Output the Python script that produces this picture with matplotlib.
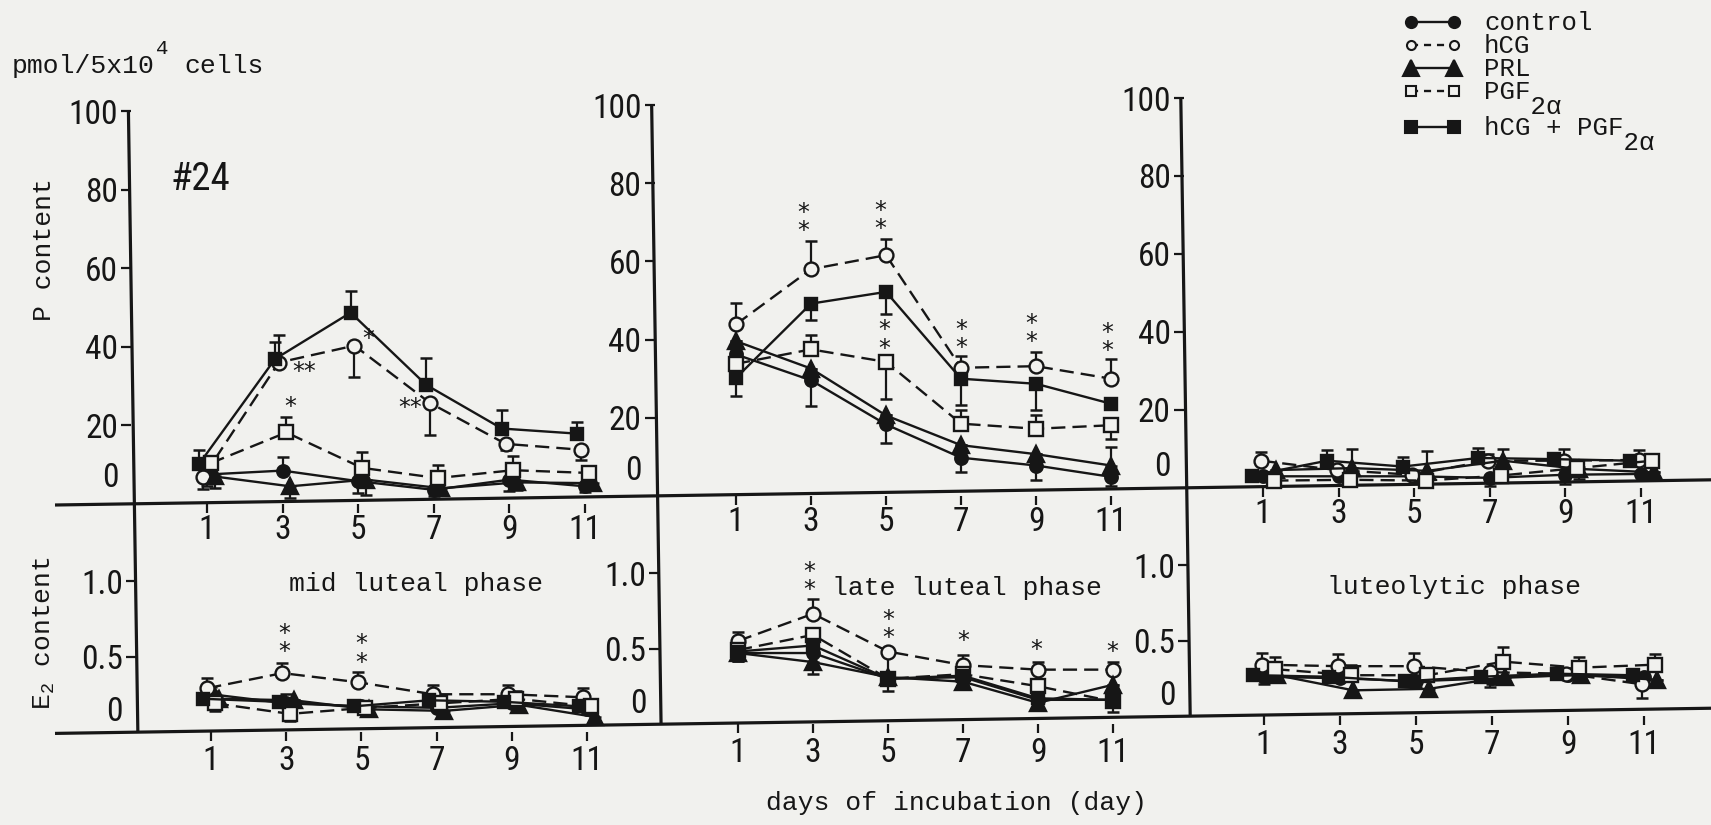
import matplotlib
matplotlib.use("Agg")
import matplotlib.pyplot as plt
from matplotlib import font_manager

# ---------------------------------------------------------------- data
DAYS = [1, 3, 5, 7, 9, 11]
SERIES = ["control", "hCG", "PRL", "PGF2a", "hCG+PGF2a"]
PHASES = ["mid luteal phase", "late luteal phase", "luteolytic phase"]
P_TICKS = [20, 40, 60, 80, 100]
E2_TICKS = [0.5, 1.0]
E2_TICK_LABELS = ["0.5", "1.0"]

# P content (pmol/5x10^4 cells); rows follow SERIES
P_MID = [
    [7.5, 8.5, 5.8, 3.6, 6.2, 4.5],
    [6.9, 36.0, 40.3, 25.7, 15.3, 13.8],
    [7.0, 4.5, 6.2, 4.0, 5.5, 5.3],
    [10.4, 18.2, 9.2, 6.6, 8.6, 7.9],
    [10.3, 36.9, 48.7, 30.3, 19.2, 17.9],
]
P_MID_UP = [
    [0, 3.5, 0, 0, 0, 0],
    [0, 7.0, 0, 0, 0, 0],
    [0, 0, 0, 0, 0, 0],
    [0, 4.0, 4.0, 3.4, 3.5, 1.5],
    [3.5, 4.2, 5.6, 6.8, 4.8, 3.0],
]
P_MID_DN = [
    [3.0, 0, 3.0, 1.5, 3.0, 1.5],
    [3.0, 0, 8.0, 8.2, 1.5, 2.5],
    [3.0, 3.0, 4.0, 1.5, 2.0, 1.5],
    [3.0, 0, 0, 0, 0, 0],
    [0, 0, 0, 0, 0, 0],
]

P_LATE = [
    [36.2, 29.6, 18.3, 9.8, 7.8, 4.9],
    [43.9, 58.0, 61.6, 32.8, 33.2, 30.0],
    [39.6, 32.6, 20.6, 13.0, 10.7, 7.8],
    [33.8, 37.5, 34.3, 18.5, 17.2, 18.1],
    [30.2, 49.2, 52.2, 30.0, 28.7, 23.6],
]
P_LATE_UP = [
    [0, 0, 0, 0, 0, 0],
    [5.5, 7.2, 4.2, 3.0, 3.6, 5.1],
    [0, 0, 0, 0, 0, 4.7],
    [0, 3.8, 0, 3.6, 3.5, 0],
    [0, 0, 0, 0, 0, 0],
]
P_LATE_DN = [
    [0, 6.7, 4.8, 3.7, 3.8, 2.3],
    [0, 0, 0, 0, 0, 0],
    [0, 0, 0, 0, 0, 0],
    [0, 0, 9.4, 0, 0, 3.4],
    [4.5, 4.3, 5.7, 6.6, 6.8, 0],
]

P_LYTIC = [
    [3.0, 3.0, 3.0, 2.6, 3.4, 3.6],
    [7.0, 4.6, 3.4, 7.0, 7.0, 7.2],
    [4.6, 5.1, 4.4, 7.0, 4.9, 4.0],
    [1.9, 2.1, 1.9, 3.2, 5.1, 7.0],
    [3.2, 7.0, 5.5, 7.7, 7.4, 7.0],
]
P_LYTIC_UP = [
    [0, 0, 0, 0, 0, 0],
    [2.2, 0, 0, 1.8, 3.0, 2.5],
    [0, 4.9, 5.0, 3.0, 0, 0],
    [0, 0, 0, 0, 0, 1.5],
    [1.5, 2.7, 2.5, 2.5, 0, 1.5],
]
P_LYTIC_DN = [
    [0, 0, 0, 2.0, 2.5, 0],
    [0, 0, 0, 0, 0, 0],
    [0, 0, 0, 0, 2.5, 0],
    [0, 0, 0, 0, 0, 0],
    [0, 0, 0, 0, 0, 0],
]

# E2 content
E2_MID = [
    [0.25, 0.19, 0.17, 0.16, 0.19, 0.15],
    [0.29, 0.39, 0.33, 0.25, 0.25, 0.23],
    [0.22, 0.21, 0.15, 0.14, 0.18, 0.10],
    [0.19, 0.12, 0.16, 0.19, 0.22, 0.17],
    [0.22, 0.20, 0.17, 0.21, 0.20, 0.17],
]
E2_MID_UP = [
    [0.05, 0.06, 0, 0.06, 0, 0],
    [0.07, 0.07, 0.07, 0.06, 0.06, 0.06],
    [0, 0, 0, 0, 0, 0],
    [0.05, 0, 0, 0.05, 0.05, 0],
    [0, 0, 0, 0, 0, 0],
]
E2_MID_DN = [
    [0, 0, 0, 0, 0, 0],
    [0, 0, 0, 0, 0, 0.05],
    [0, 0, 0.04, 0.04, 0.05, 0.04],
    [0.05, 0.05, 0.03, 0, 0, 0.05],
    [0, 0, 0, 0, 0, 0],
]

E2_LATE = [
    [0.47, 0.47, 0.30, 0.31, 0.16, 0.16],
    [0.55, 0.73, 0.48, 0.39, 0.36, 0.36],
    [0.47, 0.41, 0.31, 0.28, 0.14, 0.26],
    [0.49, 0.59, 0.30, 0.33, 0.25, 0.15],
    [0.48, 0.52, 0.30, 0.32, 0.17, 0.16],
]
E2_LATE_UP = [
    [0, 0, 0, 0, 0, 0],
    [0.06, 0.10, 0, 0.07, 0.05, 0.05],
    [0, 0, 0, 0, 0, 0],
    [0, 0, 0, 0.05, 0, 0],
    [0, 0, 0, 0, 0, 0],
]
E2_LATE_DN = [
    [0.05, 0, 0.04, 0.04, 0.06, 0],
    [0, 0, 0.14, 0, 0, 0],
    [0.05, 0.08, 0, 0.03, 0, 0],
    [0, 0, 0.08, 0, 0.08, 0.07],
    [0, 0, 0, 0, 0, 0],
]

E2_LYTIC = [
    [0.26, 0.25, 0.23, 0.25, 0.27, 0.26],
    [0.34, 0.33, 0.33, 0.29, 0.28, 0.21],
    [0.27, 0.17, 0.18, 0.26, 0.27, 0.24],
    [0.31, 0.27, 0.27, 0.36, 0.32, 0.34],
    [0.27, 0.26, 0.23, 0.26, 0.28, 0.27],
]
E2_LYTIC_UP = [
    [0, 0, 0, 0, 0, 0],
    [0.08, 0.08, 0.09, 0, 0.04, 0],
    [0, 0, 0, 0, 0, 0],
    [0.08, 0.07, 0, 0.10, 0.07, 0.07],
    [0, 0, 0, 0, 0, 0],
]
E2_LYTIC_DN = [
    [0.05, 0, 0.04, 0.04, 0, 0],
    [0, 0, 0, 0.10, 0, 0.09],
    [0.03, 0.04, 0.04, 0, 0, 0],
    [0, 0, 0, 0, 0, 0],
    [0, 0, 0, 0, 0, 0],
]

# significance marks: (day, value, mark)
P_MID_SIG = [(3.56, 33.5, "**"), (5.27, 42.0, "*"), (3.2, 24.8, "*"), (6.38, 24.4, "**")]
P_LATE_SIG = [(2.78, 70.0, "*\n*"), (4.84, 70.5, "*\n*"), (4.96, 40.0, "*\n*"),
              (7.0, 40.2, "*\n*"), (8.87, 41.7, "*\n*"), (10.9, 39.4, "*\n*")]
E2_MID_SIG = [(2.94, 0.59, "*\n*"), (5.0, 0.52, "*\n*")]
E2_LATE_SIG = [(2.91, 0.945, "*\n*"), (5.0, 0.63, "*\n*"), (7.0, 0.55, "*"),
               (8.96, 0.49, "*"), (10.97, 0.48, "*")]

# ---------------------------------------------------------------- style
INK = "#161616"
PAPER = "#f1f1ee"
W, H, DPI = 1711, 825, 100


def pick(*names):
    have = {f.name for f in font_manager.fontManager.ttflist}
    for n in names:
        if n in have:
            return n
    return "DejaVu Sans"


NUM_FONT = pick("Liberation Sans Narrow", "Roboto Condensed", "Liberation Sans")
TYPE_FONT = pick("Liberation Mono", "DejaVu Sans Mono")

plt.rcParams["mathtext.fontset"] = "custom"
plt.rcParams["mathtext.rm"] = TYPE_FONT
plt.rcParams["mathtext.it"] = TYPE_FONT

DASH = (0, (6, 3))
STYLE = {
    "control":   dict(marker="o", mfc=INK, ls="-", ms=9.0),
    "hCG":       dict(marker="o", mfc=PAPER, ls=DASH, ms=10.0),
    "PRL":       dict(marker="^", mfc=INK, ls="-", ms=11.0),
    "PGF2a":     dict(marker="s", mfc=PAPER, ls=DASH, ms=9.5),
    "hCG+PGF2a": dict(marker="s", mfc=INK, ls="-", ms=9.0),
}

LW = 1.7
AXLW = 2.3
TICK_FS = 24
TYPE_FS = 19

fig = plt.figure(figsize=(W / DPI, H / DPI), dpi=DPI, facecolor=PAPER)

# overlay in pixel units (y grows downward) for rules and free text
ov = fig.add_axes([0, 0, 1, 1], zorder=0)
ov.set_xlim(0, W)
ov.set_ylim(H, 0)
ov.axis("off")

SLOPE = 0.0152  # slight tilt of the printed frame


def rule_x(x_ref, y_ref, y):
    return x_ref + SLOPE * (y - y_ref)


# vertical axis rules (one per column)
COLS = [(132, 347), (655, 325), (1186, 440)]
COL_SPAN = [(111, 733), (105, 724), (98, 716)]
for (xr, yr), (ya, yb) in zip(COLS, COL_SPAN):
    ov.plot([rule_x(xr, yr, ya), rule_x(xr, yr, yb)], [ya, yb], color=INK, lw=AXLW,
            solid_capstyle="butt")

# horizontal rules
for y_left in (505.0, 733.4):
    ov.plot([55, W], [y_left, y_left - SLOPE * (W - 55)], color=INK, lw=AXLW,
            solid_capstyle="butt")


def make_panel(col, y0, ppu, top_px, d1, d11, right_px, data, up, dn, ticks,
               tick_labels, zero_at, sig, dodge, xpad):
    xr, yr = COLS[col]
    left = rule_x(xr, yr, (y0 + top_px) / 2)
    ppd = (d11 - d1) / 10.0
    x_lo = 1 - (d1 - left) / ppd
    x_hi = x_lo + (right_px - left) / ppd
    ax = fig.add_axes([left / W, 1 - y0 / H, (right_px - left) / W, (y0 - top_px) / H],
                      zorder=1)
    ax.patch.set_alpha(0)
    ax.set_xlim(x_lo, x_hi)
    ax.set_ylim(0, (y0 - top_px) / ppu)
    for sp in ax.spines.values():
        sp.set_visible(False)

    ax.set_xticks(DAYS)
    ax.set_xticklabels([str(d) for d in DAYS])
    ax.set_yticks(ticks)
    ax.set_yticklabels(tick_labels)
    ax.tick_params(axis="x", direction="out", length=6.5, width=1.6, pad=xpad,
                   labelsize=TICK_FS, colors=INK)
    ax.tick_params(axis="y", direction="out", length=7.5, width=1.6, pad=2.0,
                   labelsize=TICK_FS, colors=INK)
    for lab in ax.get_xticklabels() + ax.get_yticklabels():
        lab.set_fontfamily(NUM_FONT)
    ax.annotate("0", xy=(0, zero_at), xycoords=ax.get_yaxis_transform(),
                xytext=(-9.5, 0), textcoords="offset points", ha="right",
                va="center", fontsize=TICK_FS, family=NUM_FONT, color=INK)

    for i, name in enumerate(SERIES):
        st = STYLE[name]
        xs = [d + dodge[i] for d in DAYS]
        ax.errorbar(xs, data[i], yerr=[dn[i], up[i]], fmt="none", ecolor=INK,
                    elinewidth=1.6, capsize=4.5, capthick=1.8, clip_on=False, zorder=2)
        ax.plot(xs, data[i], color=INK, lw=LW, ls=st["ls"], marker=st["marker"],
                ms=st["ms"], mfc=st["mfc"], mec=INK, mew=1.7, clip_on=False, zorder=3)

    for d, v, m in sig:
        ax.text(d, v, m, ha="center", va="center", fontsize=17, color=INK,
                family="DejaVu Sans", linespacing=0.7, zorder=4)
    return ax


NO_DODGE = [0, 0, 0, 0, 0]
SMALL_DODGE = [0.0, -0.1, 0.2, 0.1, -0.2]
WIDE_DODGE = [0.0, -0.05, 0.35, 0.3, -0.3]

# top row: P content
make_panel(0, 504, 3.93, 111, 207, 585, 654, P_MID, P_MID_UP, P_MID_DN,
           P_TICKS, [str(t) for t in P_TICKS], 6.5, P_MID_SIG, SMALL_DODGE, 1.0)
make_panel(1, 496, 3.91, 105, 736, 1111, 1183, P_LATE, P_LATE_UP, P_LATE_DN,
           P_TICKS, [str(t) for t in P_TICKS], 6.5, P_LATE_SIG, NO_DODGE, 1.0)
make_panel(2, 488, 3.90, 98, 1263, 1641, W, P_LYTIC, P_LYTIC_UP, P_LYTIC_DN,
           P_TICKS, [str(t) for t in P_TICKS], 5.5, [], WIDE_DODGE, 1.0)

# bottom row: E2 content
make_panel(0, 732, 151, 504, 211, 587, 659, E2_MID, E2_MID_UP, E2_MID_DN,
           E2_TICKS, E2_TICK_LABELS, 0.13, E2_MID_SIG, SMALL_DODGE, 3.0)
make_panel(1, 724, 151, 496, 738, 1113, 1188, E2_LATE, E2_LATE_UP, E2_LATE_DN,
           E2_TICKS, E2_TICK_LABELS, 0.13, E2_LATE_SIG, NO_DODGE, 3.0)
make_panel(2, 716, 151, 488, 1264, 1644, W, E2_LYTIC, E2_LYTIC_UP, E2_LYTIC_DN,
           E2_TICKS, E2_TICK_LABELS, 0.13, [], WIDE_DODGE, 3.0)

# free text
txt = dict(color=INK, family=TYPE_FONT, fontsize=TYPE_FS)
ov.text(12, 66, "pmol/5x10", ha="left", va="center", **txt)
ov.text(156, 48, "4", ha="left", va="center", color=INK, family=TYPE_FONT, fontsize=15)
ov.text(184, 66, "cells", ha="left", va="center", **txt)
ov.text(200, 180, "#24", ha="center", va="center", color=INK, family=NUM_FONT, fontsize=28)
ov.text(44, 250, "P content", ha="center", va="center", rotation=90, **txt)
ov.text(44, 633, r"E$_2$ content", ha="center", va="center", rotation=90, **txt)
for (cx, cy), phase in zip([(416, 584), (967, 588), (1454, 587)], PHASES):
    ov.text(cx, cy, phase, ha="center", va="center", **txt)
ov.text(957, 803, "days of incubation (day)", ha="center", va="center", **txt)

# legend (subscripts are set on a second, tightly spaced line of the same label)
LEG_FS = 18.5
LEG_ROWS = [22, 45, 68, 91, 127]
LEG_MS = [8.0, 6.5, 11.0, 6.5, 8.5]
LEG_TEXT = ["control", "hCG", "PRL", "PGF\n   2\u03b1", "hCG + PGF\n         2\u03b1"]
for i, name in enumerate(SERIES):
    st = STYLE[name]
    y = LEG_ROWS[i]
    ov.plot([1411, 1454], [y, y], color=INK, lw=LW,
            ls=(0, (3, 2.5)) if st["ls"] != "-" else "-",
            marker=st["marker"], ms=LEG_MS[i], mfc=st["mfc"], mec=INK, mew=1.5)
    ov.text(1484, y - 11, LEG_TEXT[i], ha="left", va="top", color=INK,
            family=TYPE_FONT, fontsize=LEG_FS, linespacing=0.55)

fig.savefig("out.png", dpi=DPI, facecolor=PAPER)
